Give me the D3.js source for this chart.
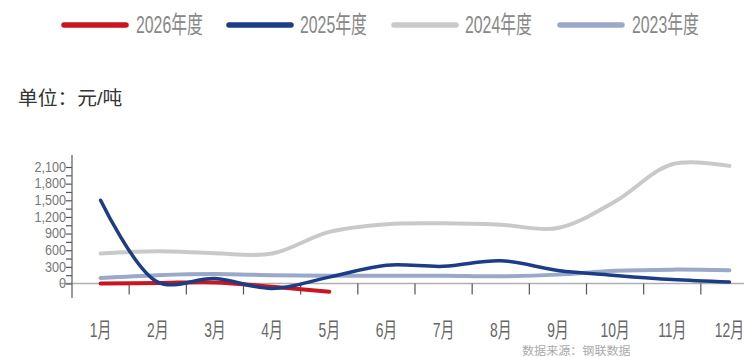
<!DOCTYPE html>
<html><head><meta charset="utf-8">
<script src="https://cdn.jsdelivr.net/npm/d3@7/dist/d3.min.js"></script>
<style>body{margin:0;background:#fff}svg{display:block}</style>
</head><body>
<script>
const months = ["1月","2月","3月","4月","5月","6月","7月","8月","9月","10月","11月","12月"];
const yTicks = [0,300,600,900,1200,1500,1800,2100];
const s2026 = [0,10,20,-60,-150];
const s2025 = [1500,25,90,-90,115,330,310,410,235,145,70,25];
const s2024 = [540,580,545,540,930,1070,1085,1060,1000,1480,2150,2120];
const s2023 = [100,150,170,150,140,140,140,130,160,230,250,240];
const seriesNames = ["2026年度","2025年度","2024年度","2023年度"];
const seriesColors = ["#c8151f","#1c3d86","#c9c9c9","#9aa8c9"];

const W=744,H=357;
const svg=d3.select("body").append("svg").attr("width",W).attr("height",H);
const FONT="'Liberation Sans','Noto Sans CJK SC',sans-serif";

function ctext(x,y,str,size,anchor,sx,color){
  return svg.append("text").attr("transform",`translate(${x},${y}) scale(${sx},1)`)
    .attr("text-anchor",anchor).attr("dominant-baseline","central")
    .attr("font-family",FONT).attr("font-size",size).attr("fill",color).text(str);
}

const x=d3.scaleBand().domain(months).range([72,758]).paddingInner(0).paddingOuter(0);
const xc=m=>x(m)+x.bandwidth()/2;
const y=d3.scaleLinear().domain([0,2100]).range([283.5,167]);

svg.append("line").attr("x1",60).attr("x2",744).attr("y1",y(0)).attr("y2",y(0)).attr("stroke","#b0b0b0").attr("stroke-width",1.5);
// x ticks at band boundaries
months.forEach((m,i)=>{ if(i>0) svg.append("line").attr("x1",x(m)).attr("x2",x(m)).attr("y1",y(0)).attr("y2",y(0)+11).attr("stroke","#555").attr("stroke-width",1.2);});
// y axis
const gy=svg.append("g").attr("transform","translate(72,0)")
  .call(d3.axisLeft(y).tickValues(d3.range(0,2101,150)).tickSize(6).tickFormat(""));
gy.select(".domain").remove();
gy.selectAll("line").attr("stroke","#555").attr("stroke-width",1.2);
svg.append("line").attr("x1",72).attr("x2",72).attr("y1",155).attr("y2",298).attr("stroke","#666").attr("stroke-width",1.3);
yTicks.forEach(v=>ctext(66,y(v),d3.format(",")(v),14,"end",0.9,"#777"));
months.forEach(m=>ctext(xc(m),330,m,21,"middle",0.66,"#666"));

// lines
const line=d3.line().x((d,i)=>xc(months[i])).y(d=>y(d)).curve(d3.curveCatmullRom.alpha(0.5));
const order=[[s2024,2,4],[s2023,3,4],[s2026,0,4],[s2025,1,3.5]];
order.forEach(([data,ci,w])=>{
  svg.append("path").datum(data).attr("d",line).attr("fill","none")
    .attr("stroke",seriesColors[ci]).attr("stroke-width",w).attr("stroke-linecap","round");
});

// legend
const lg=[[64,136],[229,300],[394,465],[560,632]];
lg.forEach(([sx,tx],i)=>{
  svg.append("line").attr("x1",sx).attr("x2",sx+62).attr("y1",25).attr("y2",25)
    .attr("stroke",seriesColors[i]).attr("stroke-width",5.5).attr("stroke-linecap","round");
  ctext(tx,25,seriesNames[i],24,"start",0.66,"#888");
});

// unit
ctext(18,98,"单位：元/吨",19,"start",1.04,"#333");
// source
ctext(522,351,"数据来源：钢联数据",11.5,"start",1.05,"#aaa");
</script>
</body></html>
